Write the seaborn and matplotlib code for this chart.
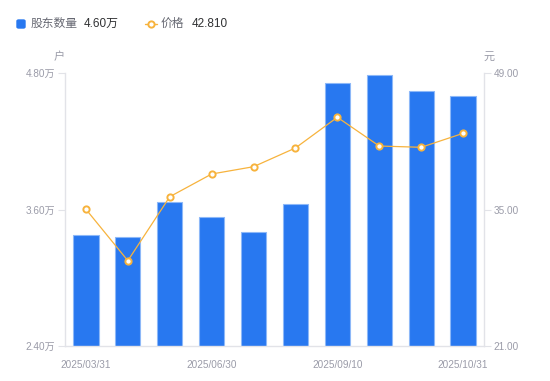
import numpy as np
import pandas as pd
import seaborn as sns
import matplotlib.pyplot as plt
from matplotlib.patches import FancyBboxPatch
from matplotlib.lines import Line2D

# Dados
dates = ["2025/03/31", "2025/04/30", "2025/05/30", "2025/06/30", "2025/07/31",
         "2025/08/29", "2025/09/10", "2025/09/30", "2025/10/20", "2025/10/31"]
holders = [3.376, 3.356, 3.663, 3.531, 3.400, 3.646, 4.712, 4.780, 4.639, 4.600]  # 万户
price = [35.02, 29.75, 36.31, 38.64, 39.39, 41.31, 44.46, 41.51, 41.38, 42.81]   # 元
shown_labels = ["2025/03/31", "2025/06/30", "2025/09/10", "2025/10/31"]

sns.set_theme(style="white")
plt.rcParams['font.family'] = ['Liberation Sans', 'Noto Sans CJK SC', 'DejaVu Sans']

BLUE = "#2878f0"
ORANGE = "#f7b33d"
GRAY = "#9a9ba8"
AXIS = "#e2e3e8"

df = pd.DataFrame({"date": dates, "holders": holders, "price": price})

fig = plt.figure(figsize=(5.5, 3.81), dpi=100)
ax = fig.add_axes([65 / 550, 35 / 381, 419 / 550, 273 / 381])

sns.barplot(data=df, x="date", y="holders", ax=ax, color=BLUE, saturation=1,
            width=0.6, edgecolor="#8db8f8", linewidth=0.8)
ax.set_ylim(2.4, 4.8)
ax.set_yticks([2.4, 3.6, 4.8])
ax.set_yticklabels([f"{v:.2f}万" for v in [2.4, 3.6, 4.8]])

ax2 = ax.twinx()
sns.pointplot(data=df, x="date", y="price", ax=ax2, color=ORANGE,
              linewidth=0.9, markersize=4.5, markerfacecolor="white",
              markeredgecolor=ORANGE, markeredgewidth=1.4)
ax2.set_ylim(21, 49)
ax2.set_yticks([21, 35, 49])
ax2.set_yticklabels([f"{v:.2f}" for v in [21, 35, 49]])
ax.set_xlim(-0.5, len(dates) - 0.5)
ax2.set_xlim(-0.5, len(dates) - 0.5)

# eixo x: mostrar só alguns rótulos
ticks = [dates.index(d) for d in shown_labels]
ax.set_xticks(ticks)
ax.set_xticklabels(shown_labels)
ax.set_xlabel("")
ax.set_ylabel("")
ax2.set_xlabel("")
ax2.set_ylabel("")

for a in (ax, ax2):
    for s in a.spines.values():
        s.set_visible(False)
    a.grid(False)
    a.set_facecolor("none")
ax.spines["left"].set_visible(True)
ax.spines["bottom"].set_visible(True)
ax2.spines["right"].set_visible(True)
for s in (ax.spines["left"], ax.spines["bottom"], ax2.spines["right"]):
    s.set_color(AXIS)
    s.set_linewidth(1)

ax.tick_params(axis="y", left=True, length=5, width=0.8, color=AXIS, labelsize=7.2,
               labelcolor=GRAY, pad=2)
ax.tick_params(axis="x", bottom=False, labelsize=7.2, labelcolor=GRAY, pad=4)
ax2.tick_params(axis="y", right=True, length=5, width=0.8, color=AXIS, labelsize=7.2,
                labelcolor=GRAY, pad=2)

# unidades
fig.text(59 / 550, 1 - 57 / 381, "户", ha="center", va="center", fontsize=8, color=GRAY)
fig.text(489 / 550, 1 - 57 / 381, "元", ha="center", va="center", fontsize=8, color=GRAY)

# legenda no topo
ly = 1 - 24 / 381
fig.add_artist(FancyBboxPatch((17 / 550, 1 - 28 / 381), 8 / 550, 8 / 381,
                              boxstyle="round,pad=0,rounding_size=0.003",
                              transform=fig.transFigure, color=BLUE))
fig.text(31 / 550, ly, "股东数量", ha="left", va="center", fontsize=8.5, color="#666872")
fig.text(84 / 550, ly, f"{holders[-1]:.2f}万", ha="left", va="center", fontsize=8.5, color="#303133")
fig.add_artist(Line2D([145 / 550, 157 / 550], [ly, ly], transform=fig.transFigure,
                      color=ORANGE, linewidth=1))
fig.add_artist(Line2D([151 / 550], [ly], transform=fig.transFigure, marker="o",
                      markersize=4.5, markerfacecolor="white", markeredgecolor=ORANGE,
                      markeredgewidth=1.4))
fig.text(161 / 550, ly, "价格", ha="left", va="center", fontsize=8.5, color="#666872")
fig.text(192 / 550, ly, f"{price[-1]:.3f}", ha="left", va="center", fontsize=8.5, color="#303133")

fig.savefig("out.png", dpi=100)
